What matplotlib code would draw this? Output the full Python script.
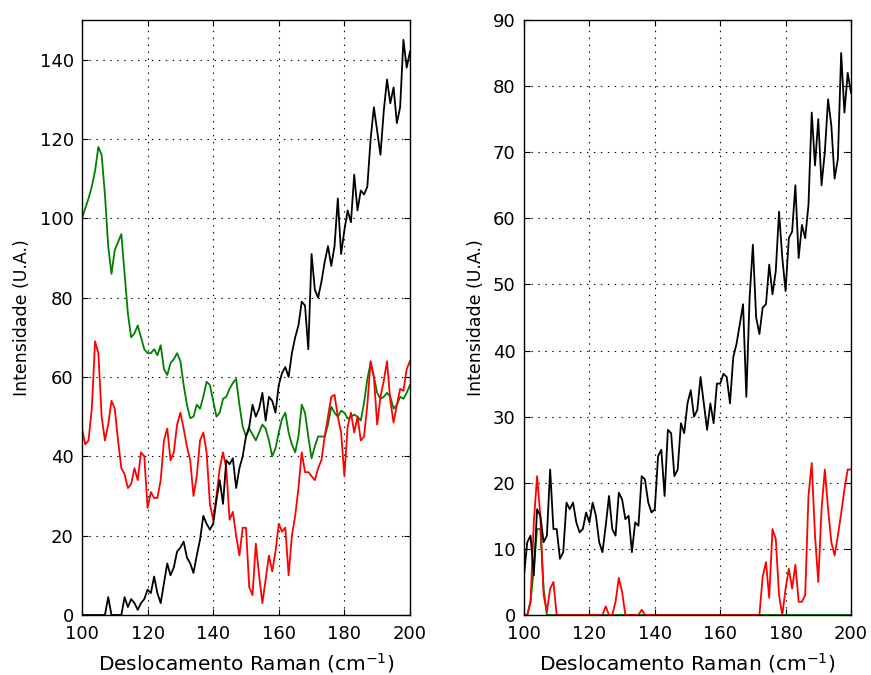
import numpy as np
import matplotlib
matplotlib.use('Agg')
import matplotlib.pyplot as plt

# Raman shift axis (cm-1), one sample per unit
shift = np.arange(100, 201)

# Left panel spectra
black_left = [0, 0, 0, 0, 0, 0, 0, 0, 4.5, 0,
              0, 0, 0, 4.5, 2, 4, 3, 1.3, 3, 4,
              6.4, 5.5, 9.7, 5.5, 3, 8, 13, 10, 12, 16,
              17, 18.5, 14.5, 13, 10.6, 15, 19, 25, 23, 21.5,
              23, 29, 34, 28, 39, 38, 39.5, 32, 37, 40,
              45, 47.5, 53, 50, 52, 56, 49, 55, 54, 51,
              58, 61, 62.5, 60, 66, 70, 73, 79, 78, 67,
              91, 82, 80, 84, 89, 93, 88, 93, 105, 91,
              97, 102, 99, 111, 102, 107, 106, 108, 120, 128,
              122, 116, 127, 135, 129, 133, 124, 128, 145, 138,
              142]
green_left = [100, 102.5, 105, 108, 112, 118, 116, 106, 93, 86,
              92, 94, 96, 86, 76, 70, 71, 73, 70, 67,
              66, 66, 67, 65.5, 68, 62, 60.5, 63.5, 64.5, 66,
              64, 58, 53, 49.6, 50, 53, 52, 55, 58.8, 58,
              54, 50, 51, 54.5, 55, 57, 58.5, 59.5, 53, 47.5,
              45, 47, 45.5, 44, 46, 48, 47, 44, 40, 42,
              46, 49.5, 51, 46, 43, 41, 45, 53, 51, 45,
              39.5, 42.5, 45, 45, 45, 48, 52.5, 51, 50, 51.5,
              51, 49.5, 50, 50.5, 50, 49, 53.5, 59.5, 63.5, 60,
              56, 54.5, 55, 56, 55, 52, 53, 55, 54.5, 56,
              58]
red_left = [47, 43, 44, 52, 69, 66, 50, 44, 48, 54,
            52, 44, 37, 35.5, 32, 33, 37, 34, 41, 40,
            27, 31, 29.5, 29.5, 34, 44, 47, 39, 41, 48,
            51, 47, 42.5, 39, 30, 35, 44, 46, 41, 28,
            24, 30, 37, 41, 37, 24, 26, 20, 15, 22,
            22, 7, 5, 18, 10, 3, 9, 15, 11, 16,
            23, 21, 22, 10, 20, 25, 32, 41, 36, 36,
            35, 34, 37, 39, 45, 50, 55, 55.5, 50, 46,
            35, 47.5, 51, 46, 50, 44, 45, 53, 64, 60,
            48, 55, 59, 64, 54, 48.5, 53, 57, 56.5, 62,
            64]

# Right panel spectra
black_right = [6, 11, 12, 6, 16, 15, 11, 12, 22, 13,
               13, 8.5, 9.5, 17, 16, 17, 14, 12.5, 13, 15.5,
               14, 17, 15, 11, 9.5, 13.5, 18, 13, 12, 18.5,
               17.5, 14.5, 15, 9.5, 14, 13.5, 21, 20.5, 17, 15.5,
               16, 24, 25, 18, 28, 27.5, 21, 22, 29, 27.5,
               32, 34, 30, 31, 36, 32, 28, 32, 29, 35,
               35, 36.5, 36, 32, 39, 41, 44, 47, 33, 48,
               56, 45, 42.5, 46.5, 47, 53, 48.5, 52, 61, 54,
               49, 57, 58, 65, 54, 59, 57, 62, 76, 68,
               75, 65, 70, 78, 74, 66, 69, 85, 76, 82,
               79]
green_right = [0, 0, 2, 7, 13, 13, 4, 0, 0, 0,
               0, 0, 0, 0, 0, 0, 0, 0, 0, 0,
               0, 0, 0, 0, 0, 0, 0, 0, 0, 0,
               0, 0, 0, 0, 0, 0, 0, 0, 0, 0,
               0, 0, 0, 0, 0, 0, 0, 0, 0, 0,
               0, 0, 0, 0, 0, 0, 0, 0, 0, 0,
               0, 0, 0, 0, 0, 0, 0, 0, 0, 0,
               0, 0, 0, 0, 0, 0, 0, 0, 0, 0,
               0, 0, 0, 0, 0, 0, 0, 0, 0, 0,
               0, 0, 0, 0, 0, 0, 0, 0, 0, 0,
               0]
red_right = [0, 0, 2, 14, 21, 15, 3, 0.5, 4, 5,
             0, 0, 0, 0, 0, 0, 0, 0, 0, 0,
             0, 0, 0, 0, 0, 1.3, 0, 0, 2, 5.6,
             3.5, 0, 0, 0, 0, 0, 0.8, 0, 0, 0,
             0, 0, 0, 0, 0, 0, 0, 0, 0, 0,
             0, 0, 0, 0, 0, 0, 0, 0, 0, 0,
             0, 0, 0, 0, 0, 0, 0, 0, 0, 0,
             0, 0, 0, 5.8, 8, 2.6, 13, 11.5, 3, 0,
             4, 7, 4, 7.6, 2, 2, 3, 18, 23, 12,
             5, 16, 22, 16, 11, 9, 12, 15.4, 19, 22,
             22]

plt.rcParams.update({
    'font.size': 13,
    'xtick.direction': 'in',
    'ytick.direction': 'in',
    'xtick.top': True,
    'ytick.right': True,
    'xtick.major.size': 4,
    'ytick.major.size': 4,
    'xtick.major.pad': 7,
    'ytick.major.pad': 6,
    'axes.linewidth': 1.0,
    'lines.scale_dashes': False,
})

fig = plt.figure(figsize=(8.71, 6.75), dpi=100)
ax1 = fig.add_axes([0.0941, 0.0889, 0.3766, 0.8815])
ax2 = fig.add_axes([0.6016, 0.0889, 0.3754, 0.8815])

lw = 1.3
ax1.plot(shift, green_left, color='green', lw=lw)
ax1.plot(shift, red_left, color='red', lw=lw)
ax1.plot(shift, black_left, color='black', lw=lw)

ax2.plot(shift, green_right, color='green', lw=lw)
ax2.plot(shift, red_right, color='red', lw=lw)
ax2.plot(shift, black_right, color='black', lw=lw)

ax1.set_ylim(0, 150)
ax1.set_yticks(range(0, 141, 20))
ax2.set_ylim(0, 90)
ax2.set_yticks(range(0, 91, 10))

for ax in (ax1, ax2):
    ax.set_xlim(100, 200)
    ax.set_xticks(range(100, 201, 20))
    ax.grid(True, color='k', linestyle=(0, (1, 4)), linewidth=0.8)
    ax.set_xlabel('Deslocamento Raman (cm$^{-1}$)', fontsize=14.5, labelpad=6)
    ax.set_ylabel('Intensidade (U.A.)', fontsize=12.5, labelpad=6)

plt.savefig('out.png', dpi=100)
